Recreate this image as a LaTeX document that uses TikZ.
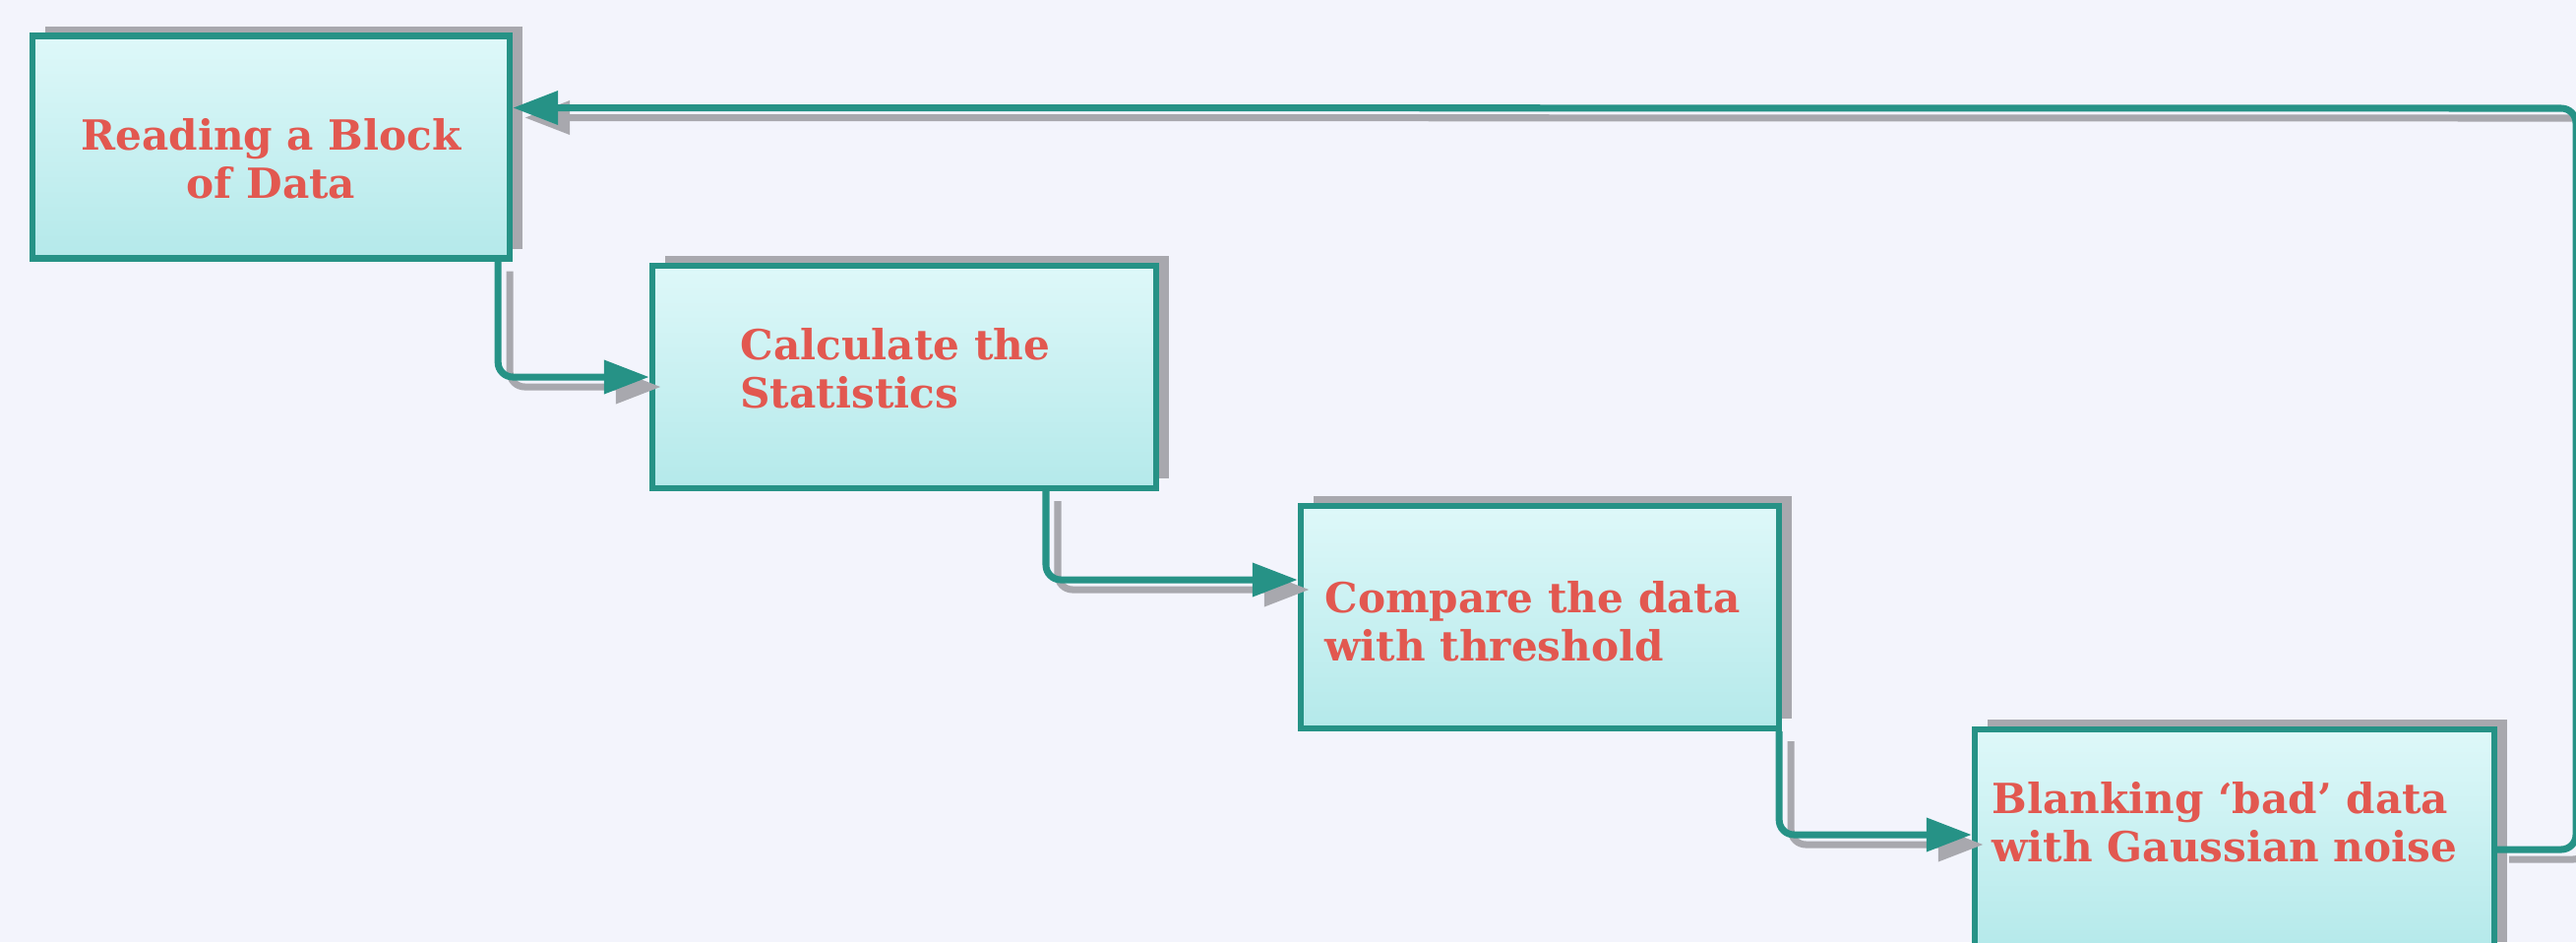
\documentclass[tikz,border=0pt]{standalone}
\usepackage{fontspec}
\setmainfont{DejaVu Serif}
\usetikzlibrary{positioning,shadows,arrows.meta}

\definecolor{pagebg}{RGB}{243,244,252}
\definecolor{flowteal}{RGB}{38,146,134}
\definecolor{boxtop}{RGB}{222,248,249}
\definecolor{boxbot}{RGB}{180,233,234}
\definecolor{labelred}{RGB}{226,88,80}
\definecolor{shadegray}{RGB}{168,168,174}

\tikzset{
  block/.style={rectangle, draw=flowteal, line width=1.8pt,
    top color=boxtop, bottom color=boxbot, minimum height=2.26cm,
    drop shadow={shadow xshift=0.13cm, shadow yshift=0.1cm, fill=shadegray, opacity=1}},
  blocktext/.style={text=labelred, font=\bfseries\fontsize{12}{14}\selectfont,
    align=left, inner sep=0pt},
  flow/.style={draw=flowteal, line width=2pt, rounded corners=0.15cm,
    -{Triangle[length=0.46cm,width=0.33cm]},
    preaction={draw=shadegray, line width=2pt, transform canvas={shift={(0.12,-0.1)}}}},
}

\begin{document}
\begin{tikzpicture}
  \fill[pagebg] (0,0) rectangle (26.18,-9.57);
  \useasboundingbox (0,0) rectangle (26.18,-9.57);

  % the four processing steps
  \node[block, minimum width=4.85cm] (read) at (2.755,-1.495) {};
  \node[block, minimum width=5.12cm] (calc) at (9.19,-3.83) {};
  \node[block, minimum width=4.86cm] (cmp) at (15.65,-6.27) {};
  \node[block, minimum width=5.28cm] (blank) at (22.71,-8.54) {};

  \node[blocktext, align=center] (read-txt) at ([yshift=-0.12cm]read.center) {Reading a Block\\of Data};
  \node[blocktext, anchor=west] (calc-txt) at ([xshift=0.92cm,yshift=0.09cm]calc.west) {Calculate the\\Statistics};
  \node[blocktext, anchor=west] (cmp-txt) at ([xshift=0.27cm,yshift=-0.04cm]cmp.west) {Compare the data\\with threshold};
  \node[blocktext, anchor=west] (blank-txt) at ([xshift=0.2cm,yshift=0.19cm]blank.west) {Blanking ‘bad’ data\\with Gaussian noise};

  % connectors
  \draw[flow] ([xshift=-0.15cm]read.south east) |- (calc.west);
  \draw[flow] ([xshift=1.44cm]calc.south) |- ([yshift=0.38cm]cmp.west);
  \draw[flow] ([xshift=-0.03cm]cmp.south east) |- ([yshift=0.06cm]blank.west);

  % back to the next block
  \coordinate (edge) at (26.18,-1.10);
  \draw[flow] ([yshift=-0.09cm]blank.east) -| (edge) -- ([yshift=0.4cm]read.east);
\end{tikzpicture}
\end{document}
